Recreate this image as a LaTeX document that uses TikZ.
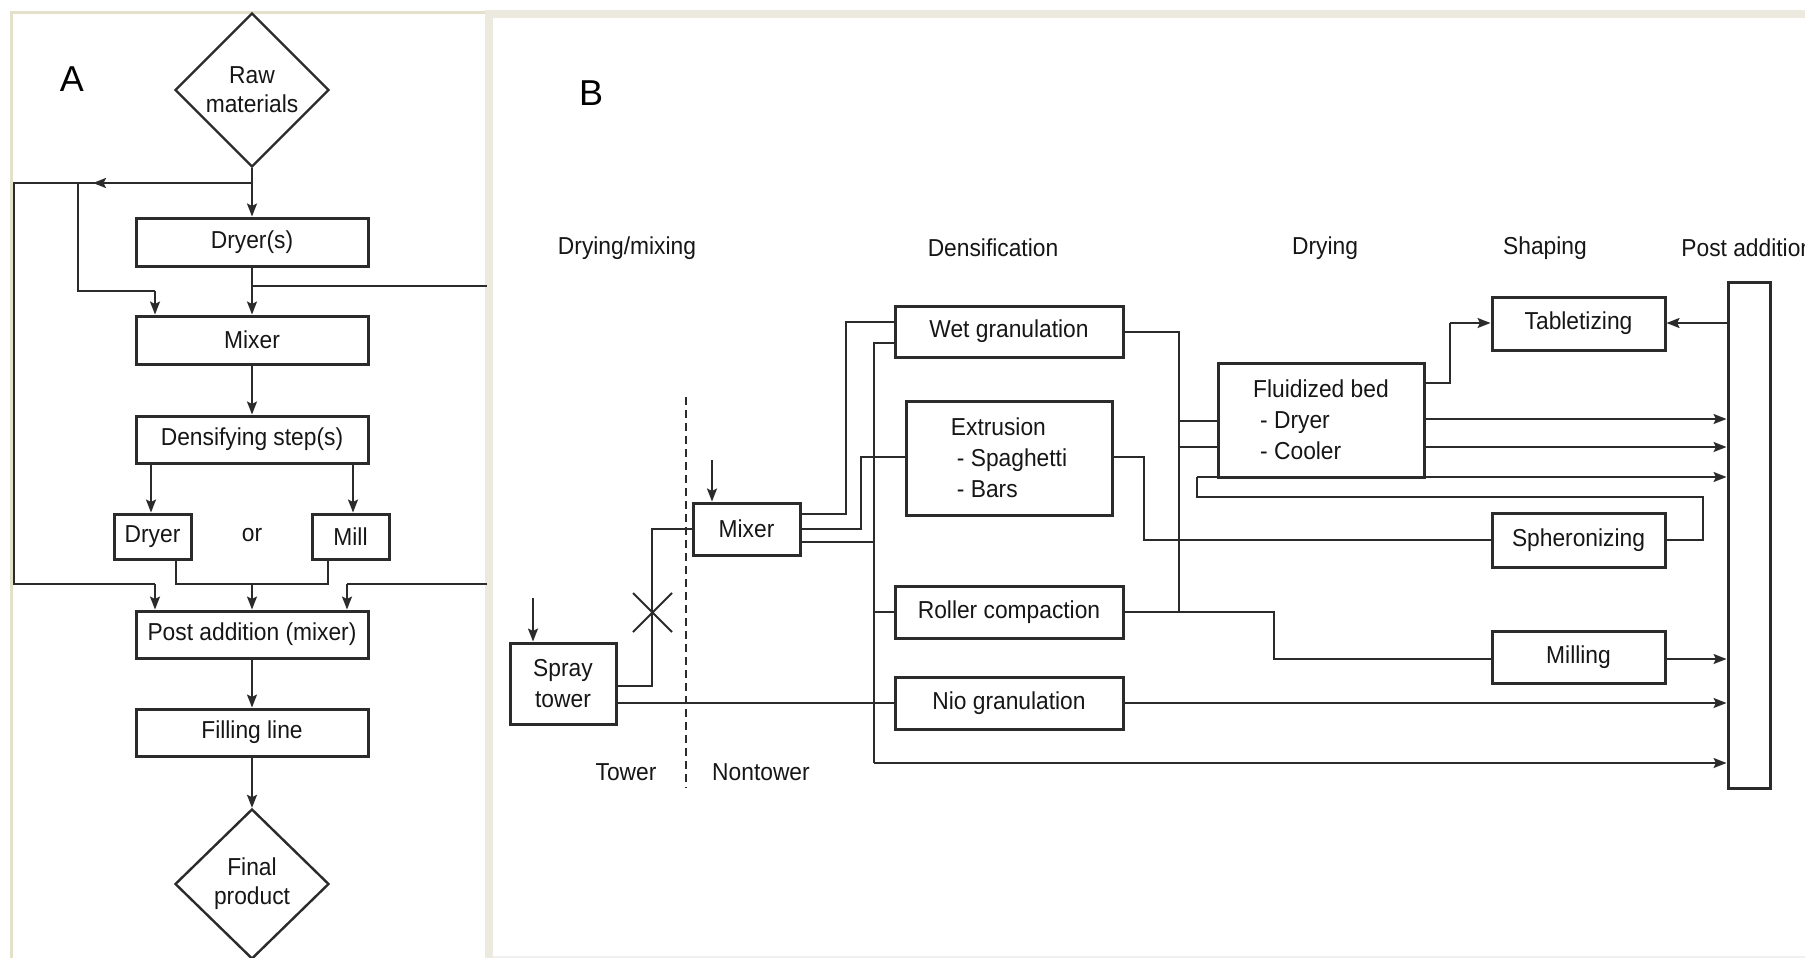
\documentclass[tikz,border=0pt]{standalone}
\usepackage{fontspec}
\setmainfont{Liberation Sans}
\newfontfamily\lblfont[FakeStretch=0.93]{Liberation Sans}
\usetikzlibrary{shapes.geometric,arrows.meta,calc}
\definecolor{lc}{HTML}{2B2B2B}
\definecolor{tc}{HTML}{161616}
\definecolor{frameA}{HTML}{E4E0CA}
\definecolor{frameB}{HTML}{ECEADF}

\begin{document}
\begin{tikzpicture}[x=0.5pt,y=-0.5pt,
  lbl/.style={font=\lblfont\fontsize{12.25pt}{15.5pt}\selectfont, text=tc},
  bx/.style={lbl, draw=lc, line width=1.5pt, inner sep=0pt, align=center},
  sz/.style 2 args={minimum width=#1*0.5pt, minimum height=#2*0.5pt},
  dia/.style={diamond, draw=lc, line width=1.2pt, inner sep=0pt, align=center,
    text=tc, font=\lblfont\fontsize{12.25pt}{14.5pt}\selectfont},
  ln/.style={draw=lc, line width=1pt},
  ar/.style={ln, -{Stealth[length=6.5pt,width=5pt,inset=1.2pt]}},
  panel/.style={font=\fontsize{18pt}{20pt}\selectfont, text=black},
]
% page and panel frames
\clip (0,0) rectangle (1805,958);
\fill[white] (0,0) rectangle (1805,958);
\fill[frameA] (10,11) rectangle (485,13.5);
\fill[frameA] (10,11) rectangle (13,958);
\fill[frameB] (485,10) rectangle (1805,18);
\fill[frameB] (485,10) rectangle (493,958);
\draw[gray!12, line width=0.75pt] (493,957) -- (1805,957);

% ---------------- panel A ----------------
\node[panel] (labA) at (72,79) {A};
\node[dia, sz={154}{154}] (raw) at (252,90) {Raw\\materials};
\node[bx, sz={232}{48}] (dryers) at (252,242) {Dryer(s)};
\node[bx, sz={232}{48}] (mixA) at (252,340) {Mixer};
\node[bx, sz={232}{47}] (dens) at (252,439.5) {Densifying step(s)};
\node[bx, sz={77}{45}] (dry) at (152.5,536.5) {Dryer};
\node[bx, sz={77}{45}] (mill) at (350.5,536.5) {Mill};
\node[lbl] (or) at (252,535) {or};
\node[bx, sz={232}{47}] (postA) at (252,634.5) {Post addition (mixer)};
\node[bx, sz={232}{47}] (fill) at (252,732.5) {Filling line};
\node[dia, sz={154}{150}] (final) at (252,884) {Final\\product};

\coordinate (jA) at (252,183);
\draw[ar] (raw.south) -- (dryers.north);
\draw[ln] (jA) -- (14,183) -- (14,584) -- (155,584);
\draw[ar] (jA) -- (93,183);
\draw[ar] (155,584) -- (postA.north -| 155,0);
\draw[ln] (78,183) -- (78,291) -- (155,291);
\draw[ar] (155,291) -- (mixA.north -| 155,0);
\draw[ar] (dryers.south) -- (mixA.north);
\draw[ln] (252,286) -- (487,286);
\draw[ar] (mixA.south) -- (dens.north);
\draw[ar] (dens.south -| 151,0) -- (dry.north -| 151,0);
\draw[ar] (dens.south -| 353,0) -- (mill.north -| 353,0);
\draw[ln] (dry.south -| 176,0) -- (176,584) -- (328,584) -- (mill.south -| 328,0);
\draw[ar] (252,584) -- (postA.north);
\draw[ln] (487,584) -- (347,584);
\draw[ar] (347,584) -- (postA.north -| 347,0);
\draw[ar] (postA.south) -- (fill.north);
\draw[ar] (fill.south) -- (final.north);

% ---------------- panel B ----------------
\node[panel] (labB) at (591,93) {B};
\node[lbl] (hDM) at (627,248) {Drying/mixing};
\node[lbl] (hDen) at (993,248) {Densification};
\node[lbl] (hDry) at (1325,248) {Drying};
\node[lbl] (hSh) at (1545,248) {Shaping};
\node[lbl, anchor=west, inner sep=0pt] (hPA) at (1681,248) {Post addition};

\node[bx, sz={107}{52}] (mixB) at (746.5,529) {Mixer};
\node[bx, sz={106}{81}] (spray) at (563,683.5) {Spray\\tower};
\node[bx, sz={228}{51}] (wet) at (1009,331.5) {Wet granulation};
\node[bx, sz={206}{114}, align=left] (extr) at (1009,458)
  {Extrusion\\\hspace*{3pt}- Spaghetti\\\hspace*{3pt}- Bars};
\node[bx, sz={228}{52}] (roll) at (1009,612) {Roller compaction};
\node[bx, sz={228}{52}] (nio) at (1009,703) {Nio granulation};
\node[bx, sz={206}{114}, align=left] (fluid) at (1321,420)
  {Fluidized bed\\\hspace*{3.5pt}- Dryer\\\hspace*{3.5pt}- Cooler};
\node[bx, sz={173}{53}] (tab) at (1578.5,323.5) {Tabletizing};
\node[bx, sz={173}{54}] (sph) at (1578.5,540) {Spheronizing};
\node[bx, sz={173}{52}] (mil) at (1578.5,657) {Milling};
\node[draw=lc, line width=1.5pt, inner sep=0pt, sz={42}{506}] (postB) at (1749,535) {};
\node[lbl] (tw) at (626,772) {Tower};
\node[lbl] (ntw) at (761,772) {Nontower};

% tower / nontower divider
\draw[lc, line width=1pt, dash pattern=on 4pt off 2.5pt] (686,397) -- (686,788);

% feed arrows
\coordinate (inM) at (712,460);
\draw[ar] (inM) -- (mixB.north -| inM);
\coordinate (inS) at (533,598);
\draw[ar] (inS) -- (spray.north -| inS);

% cross on the tower-to-mixer route
\draw[lc, line width=1pt] (633,593) -- (672,632) (633,632) -- (672,593);

% flows
\draw[ln] (spray.east |- 0,686) -- (652,686) -- (652,529) -- (mixB.west);
\draw[ln] (spray.east |- 0,703) -- (nio.west);
\draw[ln] (mixB.east |- 0,514) -- (846,514) -- (846,322) -- (wet.west |- 0,322);
\draw[ln] (mixB.east) -- (861,529) -- (861,457) -- (extr.west |- 0,457);
\draw[ln] (mixB.east |- 0,542) -- (874,542);
\draw[ln] (wet.west |- 0,343) -- (874,343) -- (874,763);
\draw[ar] (874,763) -- (postB.west |- 0,763);
\draw[ln] (874,612) -- (roll.west);
\draw[ar] (nio.east) -- (postB.west |- nio.east);
\draw[ln] (wet.east) -- (1179,331.5) -- (1179,612);
\draw[ln] (roll.east) -- (1274,612) -- (1274,659) -- (mil.west |- 0,659);
\draw[ln] (1179,421) -- (fluid.west |- 0,421);
\draw[ln] (1179,447) -- (fluid.west |- 0,447);
\draw[ln] (extr.east |- 0,457) -- (1144,457) -- (1144,540) -- (sph.west);
\draw[ln] (sph.east) -- (1703,540) -- (1703,497) -- (1197,497) -- (1197,477);
\draw[ar] (1197,477) -- (postB.west |- 0,477);
\draw[ar] (fluid.east |- 0,419) -- (postB.west |- 0,419);
\draw[ar] (fluid.east |- 0,447) -- (postB.west |- 0,447);
\draw[ln] (fluid.east |- 0,383) -- (1450,383) -- (1450,323);
\draw[ar] (1450,323) -- (tab.west |- 0,323);
\draw[ar] (postB.west |- 0,323) -- (tab.east |- 0,323);
\draw[ar] (mil.east |- 0,659) -- (postB.west |- 0,659);
\end{tikzpicture}
\end{document}
